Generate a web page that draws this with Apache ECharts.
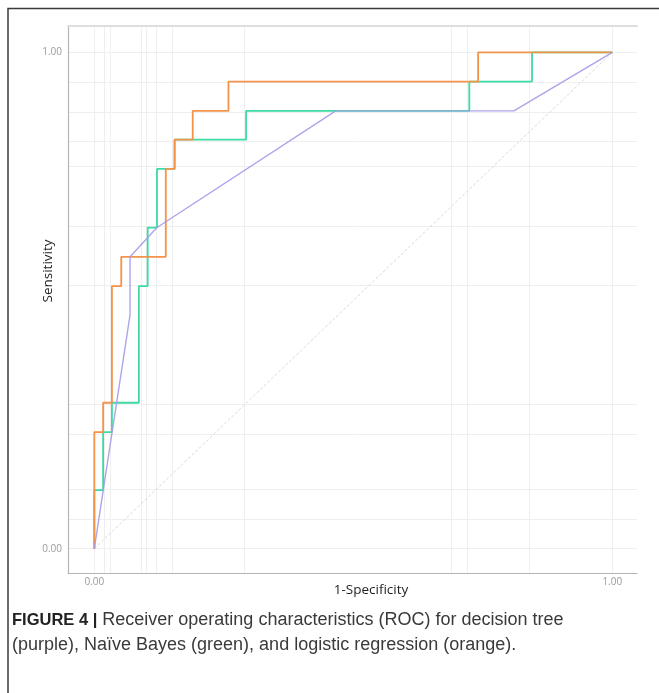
<!DOCTYPE html>
<html>
<head>
<meta charset="utf-8">
<title>ROC</title>
<script src="https://cdn.jsdelivr.net/npm/echarts@6/dist/echarts.min.js"></script>
<style>
    html, body { margin: 0; padding: 0; background: #fff; }
    #roc { width: 659px; height: 693px; }
</style>
</head>
<body>
<div id="roc"></div>
<script>
// 1-Specificity / Sensitivity
var arbol_x = [0, 0.069, 0.069, 0.121, 0.466, 0.810, 1];
var arbol_y = [0, 0.471, 0.588, 0.647, 0.882, 0.882, 1];

// ROC points, drawn as steps (up first, then right)
var bayes_x = [0, 0.017, 0.034, 0.086, 0.103, 0.121, 0.155, 0.293, 0.724, 0.845, 1];
var bayes_y = [0, 0.118, 0.235, 0.294, 0.529, 0.647, 0.765, 0.824, 0.882, 0.941, 1];

var logistica_x = [0, 0.017, 0.034, 0.052, 0.138, 0.155, 0.190, 0.259, 0.741, 1];
var logistica_y = [0, 0.235, 0.294, 0.529, 0.588, 0.765, 0.824, 0.882, 0.941, 1];

var grid_x = [0, 0.017, 0.034, 0.086, 0.103, 0.121, 0.155, 0.293, 0.690, 0.724, 0.845, 1];
var grid_y = [0, 0.059, 0.118, 0.235, 0.294, 0.529, 0.647, 0.765, 0.824, 0.882, 0.941, 1];

var ticks_x = [0, 1];
var ticks_y = [0, 1];

function pares(xs, ys) {
    var data = [];
    for (var i = 0; i < xs.length; i++) {
        data.push([xs[i], ys[i]]);
    }
    return data;
}

var lineas_grid = [];
for (var v of grid_x) lineas_grid.push({ xAxis: v });
for (var v of grid_y) lineas_grid.push({ yAxis: v });

var myChart = echarts.init(document.getElementById('roc'));

var option = {
    animation: false,
    backgroundColor: '#fff',
    grid: { left: 68, right: 22, top: 26, bottom: 120 },
    xAxis: [
        {
            type: 'value', min: -0.0508, max: 1.0477,
            axisLine: { show: true, onZero: false, lineStyle: { color: '#b5b5b5', width: 1.2 } },
            axisTick: { show: false },
            splitLine: { show: false },
            axisLabel: {
                customValues: ticks_x, margin: 4,
                color: '#9a9a9a', fontSize: 10, fontFamily: 'Open Sans',
                formatter: function (v) { return v.toFixed(2); }
            }
        },
        {
            type: 'value', position: 'top', min: -0.0508, max: 1.0477,
            axisLine: { show: true, onZero: false, lineStyle: { color: '#dedede', width: 2 } },
            axisTick: { show: false }, axisLabel: { show: false }, splitLine: { show: false }
        }
    ],
    yAxis: {
        type: 'value', min: -0.049, max: 1.053,
        axisLine: { show: true, onZero: false, lineStyle: { color: '#b5b5b5', width: 1.2 } },
        axisTick: { show: false },
        splitLine: { show: false },
        axisLabel: {
            customValues: ticks_y, margin: 6,
            color: '#9a9a9a', fontSize: 10, fontFamily: 'Open Sans',
            formatter: function (v) { return v.toFixed(2); }
        }
    },
    series: [
        {
            name: 'grid', type: 'line', data: [], silent: true, z: 0,
            markLine: {
                silent: true, symbol: 'none', animation: false, z: 0,
                label: { show: false },
                lineStyle: { color: '#efefef', width: 1, type: 'solid' },
                data: lineas_grid
            }
        },
        {
            name: 'azar', type: 'line', data: [[0, 0], [1, 1]],
            symbol: 'none', silent: true, z: 1,
            lineStyle: { color: '#cfcfcf', width: 0.8, type: [3, 2] }
        },
        {
            name: 'Naive Bayes', type: 'line', data: pares(bayes_x, bayes_y),
            step: 'start', symbol: 'none', z: 2,
            lineStyle: { color: '#3ddba3', width: 1.8 }
        },
        {
            name: 'Logistic regression', type: 'line', data: pares(logistica_x, logistica_y),
            step: 'start', symbol: 'none', z: 3,
            lineStyle: { color: '#f4934a', width: 1.8 }
        },
        {
            name: 'Decision tree', type: 'line', data: pares(arbol_x, arbol_y),
            symbol: 'none', z: 4,
            lineStyle: { color: '#a39be8', width: 1.4, opacity: 0.9 }
        }
    ],
    graphic: [
        {
            type: 'polyline', silent: true,
            shape: { points: [[8, 693], [8, 8.5], [659, 8.5]] },
            style: { stroke: '#3a3a3a', lineWidth: 1.5, fill: null }
        },
        {
            type: 'text', x: 48, y: 271, rotation: Math.PI / 2,
            style: { text: 'Sensitivity', align: 'center', verticalAlign: 'middle',
                     fill: '#1e1e1e', font: '13.5px "Open Sans"' }
        },
        {
            type: 'text', x: 371, y: 590,
            style: { text: '1-Specificity', align: 'center', verticalAlign: 'middle',
                     fill: '#1e1e1e', font: '13.5px "Open Sans"' }
        },
        {
            type: 'text', x: 12, y: 620,
            style: {
                text: '{b|FIGURE 4 |} Receiver operating characteristics (ROC) for decision tree',
                verticalAlign: 'middle', fill: '#3a3a3a', font: '18px "Liberation Sans"',
                rich: { b: { fontWeight: 'bold', fill: '#222', fontSize: 16.5, fontFamily: 'Liberation Sans' } }
            }
        },
        {
            type: 'text', x: 12, y: 645,
            style: {
                text: '(purple), Naïve Bayes (green), and logistic regression (orange).',
                verticalAlign: 'middle', fill: '#3a3a3a', font: '18px "Liberation Sans"'
            }
        }
    ]
};

myChart.setOption(option, true);
</script>
</body>
</html>
